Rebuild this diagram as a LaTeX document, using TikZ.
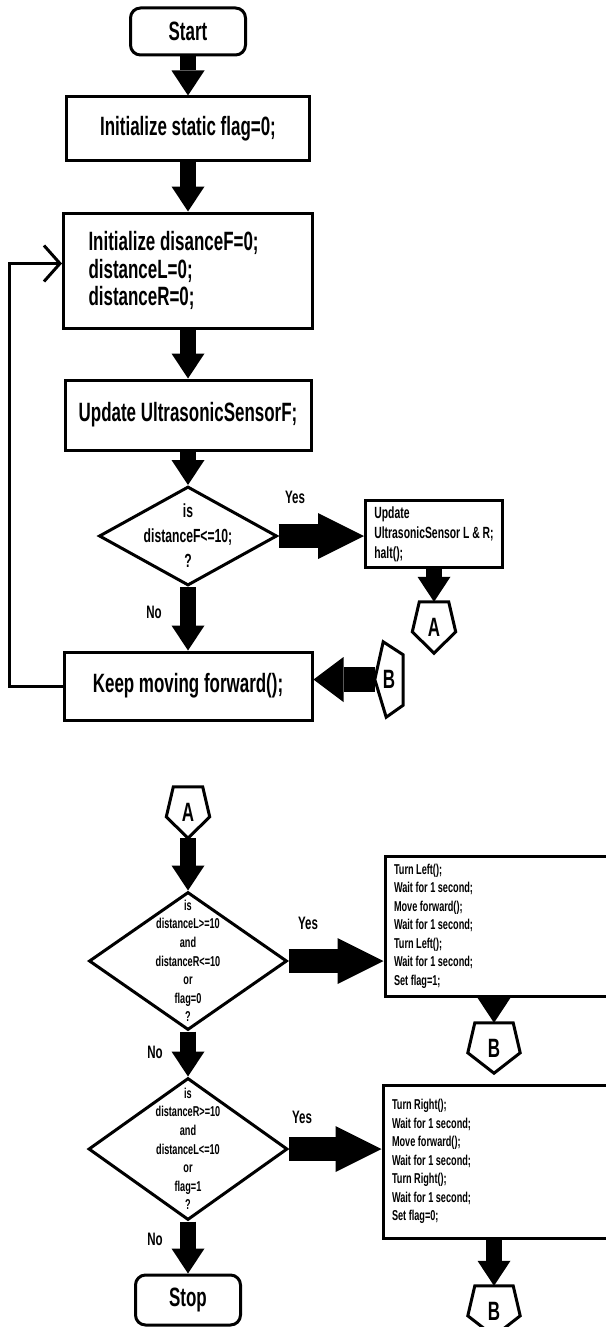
\documentclass[tikz,border=0pt]{standalone}
\usepackage{fontspec}
\setmainfont{Liberation Sans}[FakeStretch=0.64]
\usetikzlibrary{arrows.meta,shapes.geometric}

\begin{document}
\begin{tikzpicture}[x=1pt, y=-1pt,
  box/.style={draw, line width=3pt, inner sep=0pt, font=\fontsize{26.5}{27.5}\selectfont\bfseries},
  term/.style={box, rounded corners=10pt},
  test/.style={diamond, draw, line width=3pt, inner sep=-20pt, align=center},
  steps/.style={draw, line width=3pt, align=flush left, inner xsep=9pt, inner ysep=0pt, font=\fontsize{14.3}{18.5}\selectfont\bfseries},
  conn/.style={inner sep=0pt, font=\fontsize{26.5}{27.5}\selectfont\bfseries},
  outline/.style={line width=3pt, line join=miter},
  flow/.style={line width=16pt, -{Triangle[width=33pt,length=25pt,line width=0pt]}},
  fatflow/.style={line width=24pt, -{Triangle[width=46pt,length=46pt,line width=0pt]}},
  answer/.style={font=\fontsize{18}{18}\selectfont\bfseries},
  loop/.style={line width=3pt, -{Straight Barb[length=16pt,width=36pt,line width=3pt]}}]
\useasboundingbox (0,0) rectangle (605,1327);

\node[term, minimum width=115pt, minimum height=47pt] (start) at (188,31.5) {Start};
\node[box, minimum width=243pt, minimum height=63pt] (init) at (188,128.5) {Initialize static flag=0;};
\node[box, minimum height=115pt, text width=199pt, inner xsep=25pt, align=flush left] (reset) at (188,270.5) {Initialize disanceF=0;\\distanceL=0;\\distanceR=0;};
\node[box, minimum width=246pt, minimum height=70pt] (sensF) at (188,415) {Update UltrasonicSensorF;};
\node[test, minimum width=178pt, minimum height=99pt, font=\fontsize{19}{25}\selectfont\bfseries] (dec1) at (188,536) {is\\distanceF<=10;\\?};
\node[box, minimum width=137pt, minimum height=67pt, align=left, font=\fontsize{16.2}{20}\selectfont\bfseries] (sensLR) at (434,534) {Update\\UltrasonicSensor L \& R;\\halt();};
\node[conn, minimum width=43pt, minimum height=51pt] (A1) at (434,627.5) {A};
\node[box, minimum width=248pt, minimum height=68pt] (keep) at (188,686) {Keep moving forward();};
\node[conn, minimum width=28pt, minimum height=75pt] (B0) at (389,679.5) {B};
\node[answer] (yes1) at (295,497) {Yes};
\node[answer] (no1) at (154,612) {No};

\node[conn, minimum width=43pt, minimum height=51pt] (A2) at (188,812.5) {A};
\node[test, minimum width=198pt, minimum height=138pt, font=\fontsize{14.3}{18.6}\selectfont\bfseries] (dec2) at (188,961) {is\\distanceL>=10\\and\\distanceR<=10\\or\\flag=0\\?};
\node[steps, minimum width=255pt, minimum height=140pt, text width=237pt] (turnL) at (512.5,926) {Turn Left();\\Wait for 1 second;\\Move forward();\\Wait for 1 second;\\Turn Left();\\Wait for 1 second;\\Set flag=1;};
\node[conn, minimum width=52pt, minimum height=50pt] (B1) at (494,1048) {B};
\node[test, minimum width=199pt, minimum height=142pt, font=\fontsize{14.3}{18.6}\selectfont\bfseries] (dec3) at (188,1149) {is\\distanceR>=10\\and\\distanceL<=10\\or\\flag=1\\?};
\node[steps, minimum width=257pt, minimum height=153pt, text width=239pt] (turnR) at (511.5,1161.5) {Turn Right();\\Wait for 1 second;\\Move forward();\\Wait for 1 second;\\Turn Right();\\Wait for 1 second;\\Set flag=0;};
\node[conn, minimum width=52pt, minimum height=50pt] (B2) at (494,1311) {B};
\node[term, minimum width=105pt, minimum height=50pt] (stop) at (188,1300) {Stop};
\node[answer] (yes2) at (308,923) {Yes};
\node[answer] (no2) at (155,1052) {No};
\node[answer] (yes3) at (302,1117) {Yes};
\node[answer] (no3) at (155,1239) {No};

\foreach \c in {A1,A2,B1,B2}
  \draw[outline] ([xshift=7pt]\c.north west) -- ([xshift=-7pt]\c.north east) -- ([yshift=-30pt]\c.north east) -- (\c.south) -- ([yshift=-30pt]\c.north west) -- cycle;
\draw[outline] ([xshift=-20pt]B0.north east) -- ([yshift=-13pt]B0.north east) -- ([yshift=12pt]B0.south east) -- ([xshift=-17pt]B0.south east) -- (B0.west) -- cycle;

\draw[flow] (start) -- (init);
\draw[flow] (init) -- (reset);
\draw[flow] (reset) -- (sensF);
\draw[flow] (sensF) -- (dec1);
\draw[flow] (dec1) -- (keep);
\draw[flow] (sensLR) -- (A1);
\draw[fatflow] (dec1.east) -- (dec1.east -| sensLR.west);
\draw[line width=25pt, -{Triangle[width=45pt,length=30pt,line width=0pt]}] (B0.west) -- (B0.west -| keep.east);
\draw[loop] (keep.west) -- ++(-53,0) |- ([yshift=7pt]reset.west);

\draw[flow] (A2) -- (dec2);
\draw[flow] (dec2) -- (dec3);
\draw[flow] (dec3) -- (stop);
\draw[fatflow] (dec2.east) -- (dec2.east -| turnL.west);
\draw[fatflow] (dec3.east) -- (dec3.east -| turnR.west);
\draw[flow] (B1.north |- turnL.south) -- (B1);
\draw[flow] (B2.north |- turnR.south) -- (B2);
\end{tikzpicture}
\end{document}
